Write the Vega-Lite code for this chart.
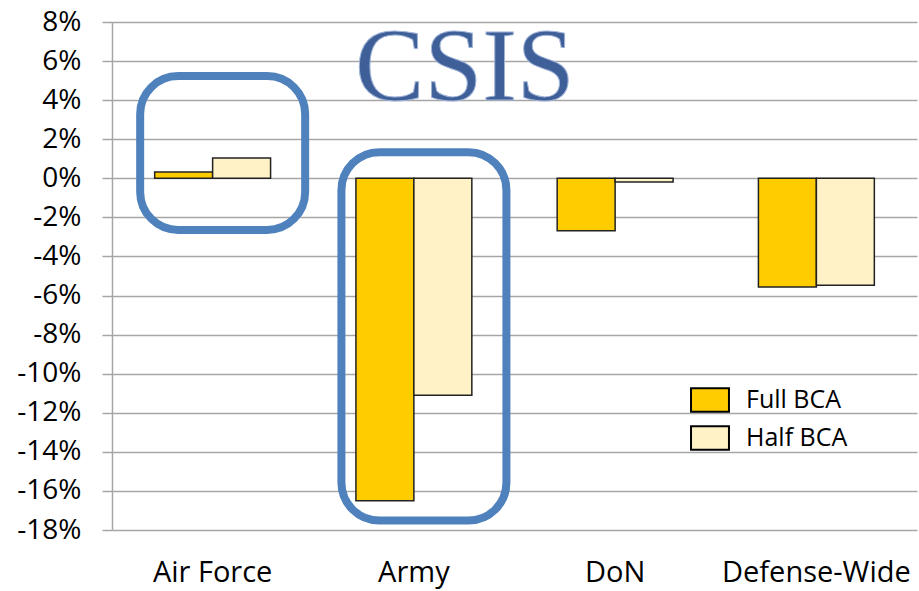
{
  "$schema": "https://vega.github.io/schema/vega-lite/v6.json",
  "autosize": "none",
  "width": 805,
  "height": 508,
  "padding": {"left": 112, "top": 22, "right": 2, "bottom": 61},
  "background": "white",
  "config": {
    "view": {"stroke": null},
    "font": "Open Sans"
  },
  "datasets": {
    "bars": [
      {"service": "Air Force", "scenario": "Full BCA", "change": 0.32},
      {"service": "Air Force", "scenario": "Half BCA", "change": 1.04},
      {"service": "Army", "scenario": "Full BCA", "change": -16.5},
      {"service": "Army", "scenario": "Half BCA", "change": -11.1},
      {"service": "DoN", "scenario": "Full BCA", "change": -2.69},
      {"service": "DoN", "scenario": "Half BCA", "change": -0.19},
      {"service": "Defense-Wide", "scenario": "Full BCA", "change": -5.56},
      {"service": "Defense-Wide", "scenario": "Half BCA", "change": -5.47}
    ],
    "boxes": [
      {"service": "Air Force", "change": 5.23, "bottom": -2.64},
      {"service": "Army", "change": 1.34, "bottom": -17.52}
    ],
    "logo": [
      {"service": "Army", "label": "CSIS", "change": 4}
    ]
  },
  "encoding": {
    "x": {
      "field": "service", "type": "nominal",
      "scale": {"domain": ["Air Force", "Army", "DoN", "Defense-Wide"], "paddingInner": 0.424, "paddingOuter": 0.212},
      "axis": {"title": null, "domain": false, "ticks": false, "labelAngle": 0, "labelFontSize": 29, "labelColor": "black", "labelPadding": 28, "labelFont": "Open Sans", "labelLimit": 0, "labelOverlap": false}
    },
    "y": {
      "field": "change", "type": "quantitative",
      "scale": {"domain": [-18, 8], "nice": false, "zero": false},
      "axis": {
        "title": null,
        "values": [-18, -16, -14, -12, -10, -8, -6, -4, -2, 0, 2, 4, 6, 8],
        "labelExpr": "datum.value + '%'",
        "labelOverlap": false,
        "labelFontSize": 28, "labelColor": "black", "labelPadding": 21, "labelFont": "Open Sans",
        "grid": true, "gridColor": "#A6A6A6", "gridWidth": 1.5,
        "tickColor": "#A6A6A6", "tickSize": 10, "tickWidth": 1.5,
        "domainColor": "#A6A6A6", "domainWidth": 1.5
      }
    }
  },
  "layer": [
    {
      "data": {"name": "bars"},
      "mark": {"type": "bar", "stroke": "#222222", "strokeWidth": 1.5},
      "encoding": {
        "xOffset": {"field": "scenario", "type": "nominal", "scale": {"domain": ["Full BCA", "Half BCA"], "paddingInner": 0, "paddingOuter": 0}},
        "color": {
          "field": "scenario", "type": "nominal",
          "scale": {"domain": ["Full BCA", "Half BCA"], "range": ["#FFCC00", "#FFF2C6"]},
          "legend": {
            "title": null,
            "orient": "none",
            "legendX": 578,
            "legendY": 358,
            "symbolType": "M-1,-0.62H1V0.62H-1Z",
            "symbolSize": 1440,
            "symbolStrokeColor": "black",
            "symbolStrokeWidth": 2,
            "symbolOpacity": 1,
            "labelFontSize": 25,
            "labelColor": "black",
            "labelFont": "Open Sans",
            "labelOffset": 16,
            "rowPadding": 2
          }
        }
      }
    },
    {
      "data": {"name": "boxes"},
      "mark": {"type": "bar", "width": 165, "fill": null, "fillOpacity": 0, "stroke": "#4F81BD", "strokeWidth": 8, "cornerRadius": 38},
      "encoding": {
        "xOffset": {"value": 68},
        "y2": {"field": "bottom"}
      }
    },
    {
      "data": {"name": "logo"},
      "mark": {"type": "text", "font": "Liberation Serif", "fontSize": 104, "color": "#3F5F99", "baseline": "alphabetic", "align": "center", "dx": 51, "stroke": "#9FB3D6", "strokeWidth": 1},
      "encoding": {
        "text": {"field": "label"}
      }
    }
  ]
}
